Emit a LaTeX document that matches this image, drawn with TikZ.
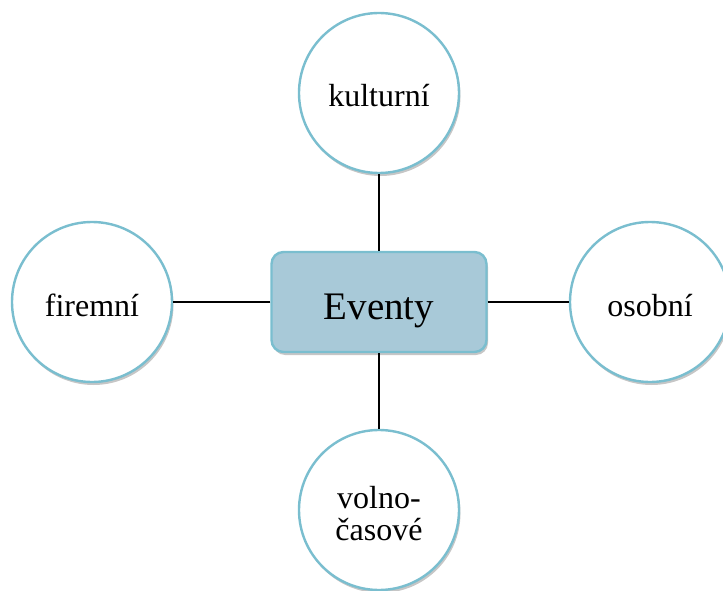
\documentclass[tikz,border=0pt]{standalone}
\usepackage{fontspec}
\setmainfont{Liberation Serif}
\usetikzlibrary{shadows}
\definecolor{ringc}{RGB}{122,190,207}
\definecolor{boxfill}{RGB}{168,201,216}
\tikzset{
  bubblebase/.style={circle, draw=ringc, line width=2.4pt, fill=white, minimum size=160pt, inner sep=0pt,
    font=\fontsize{32}{32}\selectfont,
    drop shadow={opacity=0.45, shadow xshift=1.5pt, shadow yshift=-3pt}},
  bubble/.style={bubblebase, text height=28pt, text depth=0pt},
  hub/.style={rectangle, rounded corners=12pt, draw=ringc, line width=2.4pt, fill=boxfill,
    minimum width=215pt, minimum height=100pt, inner sep=0pt,
    font=\fontsize{39}{40}\selectfont, text height=34pt, text depth=0pt,
    drop shadow={opacity=0.45, shadow xshift=1.5pt, shadow yshift=-3pt}},
  link/.style={draw=black, line width=2pt}
}
\begin{document}
\begin{tikzpicture}[x=1pt,y=-1pt]
\useasboundingbox (0,0) rectangle (723,591);
\node[hub] (ev) at (379,302) {Eventy};
\node[bubble] (ku) at (379,93) {kulturní};
\node[bubble] (fi) at (92,302) {firemní};
\node[bubble] (os) at (650,302) {osobní};
\node[bubblebase] (vo) at (379,510) {\raisebox{2pt}[0pt][0pt]{\begin{tabular}[t]{@{}c@{}}volno-\\časové\end{tabular}}};
\draw[link] (ev.north) -- (ku.south);
\draw[link] (ev.south) -- (vo.north);
\draw[link] (ev.west) -- (fi.east);
\draw[link] (ev.east) -- (os.west);
\end{tikzpicture}
\end{document}
